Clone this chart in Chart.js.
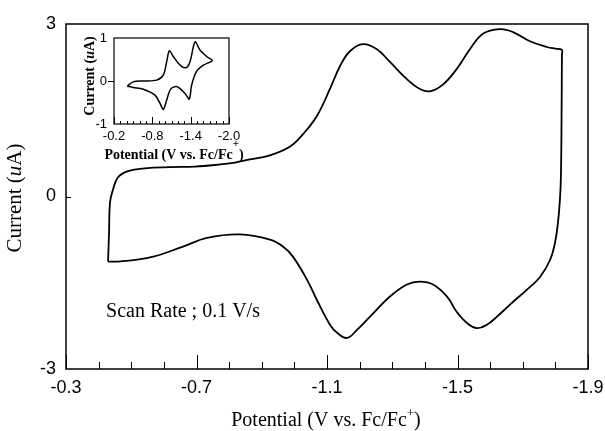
<!DOCTYPE html>
<html>
<head>
<meta charset="utf-8">
<script src="https://cdn.jsdelivr.net/npm/chart.js@4/dist/chart.umd.min.js"></script>
<style>
  html, body { margin: 0; padding: 0; background: #fff; }
  #wrap { position: relative; width: 605px; height: 431px; }
  #wrap canvas { position: absolute; left: 0; top: 0; }
</style>
</head>
<body>
<div id="wrap">
  <canvas id="main" width="605" height="431"></canvas>
  <canvas id="inset" width="605" height="431"></canvas>
</div>
<script>
// Voltammogramme principal (V vs. Fc/Fc+, uA)
const potential = [-0.429, -0.432, -0.435, -0.444, -0.459, -0.49, -0.542, -0.62, -0.695, -0.76,
  -0.818, -0.864, -0.925, -0.987, -1.026, -1.069, -1.109, -1.14, -1.171, -1.21,
  -1.253, -1.293, -1.345, -1.385, -1.416, -1.456, -1.498, -1.538, -1.578, -1.63,
  -1.67, -1.722, -1.774, -1.80, -1.820, -1.820, -1.819, -1.817, -1.814, -1.808, -1.799, -1.784,
  -1.753, -1.713, -1.661, -1.621, -1.59, -1.56, -1.529, -1.498, -1.468, -1.425,
  -1.385, -1.345, -1.293, -1.232, -1.192, -1.161, -1.131, -1.109, -1.069, -1.039,
  -0.996, -0.965, -0.925, -0.833, -0.732, -0.659, -0.564, -0.466, -0.429];
const current = [-1.13, -0.61, -0.10, 0.12, 0.33, 0.44, 0.49, 0.51, 0.52, 0.55,
  0.59, 0.645, 0.715, 0.87, 1.08, 1.40, 1.87, 2.27, 2.53, 2.65,
  2.56, 2.34, 2.04, 1.87, 1.83, 1.95, 2.22, 2.56, 2.83, 2.91,
  2.86, 2.70, 2.60, 2.57, 2.55, 2.46, 1.40, 0.35, -0.05, -0.45, -0.80, -1.10,
  -1.40, -1.62, -1.88, -2.09, -2.23, -2.29, -2.20, -2.01, -1.74, -1.53,
  -1.48, -1.53, -1.74, -2.09, -2.32, -2.46, -2.37, -2.23, -1.80, -1.45,
  -1.05, -0.87, -0.75, -0.66, -0.72, -0.87, -1.05, -1.13, -1.13];
const xTicksMain = [-0.3, -0.7, -1.1, -1.5, -1.9];
const yTicksMain = [-3, 0, 3];

// Encart
const insetPotential = [-0.408, -0.50, -0.65, -0.868, -0.972, -1.025, -1.066, -1.128, -1.233, -1.327,
  -1.39, -1.468, -1.546, -1.65, -1.738, -1.60, -1.49, -1.416, -1.378, -1.311,
  -1.181, -1.087, -1.025, -0.972, -0.92, -0.842, -0.659, -0.50, -0.408];
const insetCurrent = [-0.12, -0.02, 0.00, 0.02, 0.14, 0.45, 0.70, 0.57, 0.37, 0.31,
  0.45, 0.91, 0.72, 0.57, 0.47, 0.37, 0.22, -0.09, -0.42, -0.29,
  -0.13, -0.19, -0.44, -0.66, -0.52, -0.33, -0.19, -0.15, -0.12];
const xTicksInset = [-0.2, -0.8, -1.4, -2.0];
const yTicksInset = [-1, 0, 1];

const SANS = '"Liberation Sans", Arial, sans-serif';
const SERIF = '"Liberation Serif", "Times New Roman", serif';

function estDans(liste, v) {
  return liste.some(function (t) { return Math.abs(t - v) < 1e-6; });
}

function points(xs, ys) {
  return xs.map(function (x, i) { return { x: x, y: ys[i] }; });
}

// Texte composé (italique, exposant), centré sur (x, y)
function texteRiche(ctx, morceaux, x, y, angle) {
  ctx.save();
  ctx.translate(x, y);
  ctx.rotate(angle || 0);
  ctx.textBaseline = 'alphabetic';
  ctx.textAlign = 'left';
  let total = 0;
  morceaux.forEach(function (m) { ctx.font = m.f; total += ctx.measureText(m.t).width; });
  let cx = -total / 2;
  morceaux.forEach(function (m) {
    ctx.font = m.f;
    ctx.fillText(m.t, cx, m.dy || 0);
    cx += ctx.measureText(m.t).width;
  });
  ctx.restore();
}

// Cadre, graduations et titres dessinés à la main
const cadre = {
  id: 'cadre',
  afterDraw(chart, args, o) {
    const ctx = chart.ctx;
    const a = chart.chartArea;
    const x = chart.scales.x, y = chart.scales.y;
    ctx.save();
    ctx.strokeStyle = '#000';
    ctx.fillStyle = '#000';
    ctx.lineWidth = o.cadre;
    ctx.strokeRect(a.left, a.top, a.right - a.left, a.bottom - a.top);
    ctx.lineWidth = 1;
    x.ticks.forEach(function (t) {
      const px = Math.round(x.getPixelForValue(t.value)) + 0.5;
      const len = t.label ? o.majeur : o.mineur;
      ctx.beginPath();
      ctx.moveTo(px, a.bottom);
      ctx.lineTo(px, a.bottom - len);
      ctx.stroke();
    });
    o.yTicks.forEach(function (v) {
      const py = Math.round(y.getPixelForValue(v)) + 0.5;
      ctx.beginPath();
      ctx.moveTo(a.left + o.yTick[0], py);
      ctx.lineTo(a.left + o.yTick[1], py);
      ctx.stroke();
    });
    o.titres.forEach(function (t) { texteRiche(ctx, t.morceaux, t.x, t.y, t.angle); });
    ctx.restore();
  }
};

new Chart(document.getElementById('main'), {
  type: 'scatter',
  data: {
    datasets: [{
      data: points(potential, current),
      showLine: true,
      borderColor: '#000',
      borderWidth: 1.8,
      pointRadius: 0,
      tension: 0.4
    }]
  },
  options: {
    responsive: false,
    animation: false,
    devicePixelRatio: 1,
    layout: { padding: { top: 24, right: 17, left: 0, bottom: 0 } },
    plugins: {
      legend: { display: false },
      tooltip: { enabled: false },
      cadre: {
        cadre: 1.5, majeur: 14, mineur: 7,
        yTicks: [0], yTick: [0, 5],
        titres: [
          { x: 21, y: 198, angle: -Math.PI / 2, morceaux: [
            { t: 'Current (', f: '21px ' + SERIF },
            { t: 'u', f: 'italic 21px ' + SERIF },
            { t: 'A)', f: '21px ' + SERIF }] },
          { x: 326, y: 426, morceaux: [
            { t: 'Potential (V vs. Fc/Fc', f: '20px ' + SERIF },
            { t: '+', f: '13px ' + SERIF, dy: -9 },
            { t: ')', f: '20px ' + SERIF }] },
          { x: 183, y: 317, morceaux: [
            { t: 'Scan Rate ; 0.1 V/s', f: '20px ' + SERIF }] }
        ]
      }
    },
    scales: {
      x: {
        type: 'linear', reverse: true, min: -1.9, max: -0.3,
        grid: { display: false, drawTicks: false },
        border: { display: false },
        afterFit: function (s) { s.height = 62; s.paddingLeft = 0; s.paddingRight = 0; },
        ticks: {
          stepSize: 0.1, autoSkip: false, maxRotation: 0, padding: 8,
          color: '#000', font: { family: SANS, size: 18 },
          callback: function (v) { return estDans(xTicksMain, v) ? v.toFixed(1) : ''; }
        }
      },
      y: {
        min: -3, max: 3,
        grid: { display: false, drawTicks: false },
        border: { display: false },
        afterFit: function (s) { s.width = 66; s.paddingTop = 0; s.paddingBottom = 0; },
        ticks: {
          stepSize: 3, padding: 10,
          color: '#000', font: { family: SANS, size: 18 },
          callback: function (v) { return estDans(yTicksMain, v) ? String(v) : ''; }
        }
      }
    }
  },
  plugins: [cadre]
});

new Chart(document.getElementById('inset'), {
  type: 'scatter',
  data: {
    datasets: [{
      data: points(insetPotential, insetCurrent),
      showLine: true,
      borderColor: '#000',
      borderWidth: 1.5,
      pointRadius: 0,
      tension: 0.3
    }]
  },
  options: {
    responsive: false,
    animation: false,
    devicePixelRatio: 1,
    layout: { padding: { top: 38, right: 376, left: 0, bottom: 0 } },
    plugins: {
      legend: { display: false },
      tooltip: { enabled: false },
      cadre: {
        cadre: 1.2, majeur: 7, mineur: 3,
        yTicks: [0], yTick: [-6, 0],
        titres: [
          { x: 94, y: 76, angle: -Math.PI / 2, morceaux: [
            { t: 'Current (', f: 'bold 14px ' + SERIF },
            { t: 'u', f: 'bold italic 14px ' + SERIF },
            { t: 'A)', f: 'bold 14px ' + SERIF }] },
          { x: 174, y: 159, morceaux: [
            { t: 'Potential (V vs. Fc/Fc', f: 'bold 14px ' + SERIF },
            { t: '+', f: 'bold 11px ' + SERIF, dy: -12 },
            { t: ')', f: 'bold 14px ' + SERIF }] }
        ]
      }
    },
    scales: {
      x: {
        type: 'linear', reverse: true, min: -2.0, max: -0.2,
        grid: { display: false, drawTicks: false },
        border: { display: false },
        afterFit: function (s) { s.height = 307; },
        ticks: {
          stepSize: 0.1, autoSkip: false, maxRotation: 0, padding: 5,
          color: '#000', font: { family: SANS, size: 13 },
          callback: function (v) { return estDans(xTicksInset, v) ? v.toFixed(1) : ''; }
        }
      },
      y: {
        min: -1, max: 1,
        grid: { display: false, drawTicks: false },
        border: { display: false },
        afterFit: function (s) { s.width = 114; },
        ticks: {
          stepSize: 1, padding: 7,
          color: '#000', font: { family: SANS, size: 13 },
          callback: function (v) { return estDans(yTicksInset, v) ? String(v) : ''; }
        }
      }
    }
  },
  plugins: [cadre]
});
</script>
</body>
</html>
